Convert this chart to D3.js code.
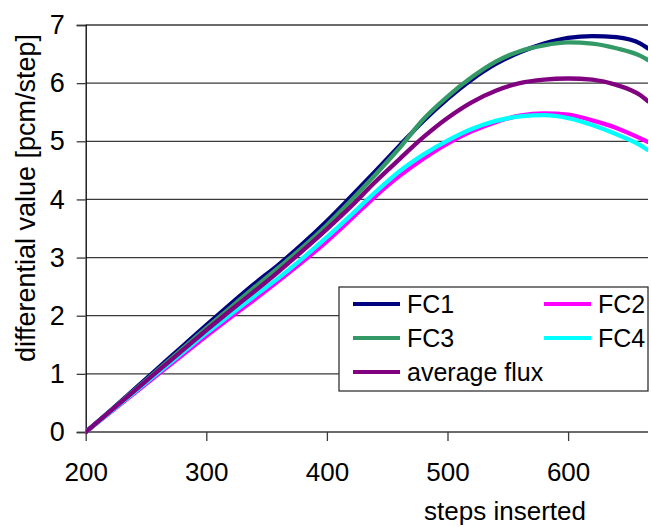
<!DOCTYPE html>
<html>
<head>
<meta charset="utf-8">
<script src="https://cdn.jsdelivr.net/npm/d3@7"></script>
<style>
  html, body { margin: 0; padding: 0; background: #fff; }
  svg { display: block; font-family: "Liberation Sans", Arial, sans-serif; }
</style>
</head>
<body>
<svg id="chart" width="651" height="527"></svg>
<script>
// ---- data ----
const steps = [200,220,240,260,280,300,320,340,360,380,400,420,440,460,480,500,520,540,560,580,600,620,640,660,666];
const fc1 = [0,0.36,0.73,1.10,1.47,1.84,2.20,2.55,2.88,3.24,3.63,4.05,4.48,4.92,5.35,5.73,6.06,6.33,6.53,6.68,6.78,6.81,6.79,6.68,6.60];
const fc2 = [0,0.33,0.66,0.99,1.32,1.65,1.97,2.28,2.60,2.93,3.28,3.66,4.05,4.40,4.70,4.96,5.17,5.33,5.44,5.48,5.46,5.36,5.23,5.05,4.99];
const fc3 = [0,0.35,0.71,1.07,1.43,1.79,2.14,2.49,2.83,3.18,3.56,3.98,4.42,4.88,5.38,5.77,6.10,6.37,6.55,6.65,6.70,6.68,6.60,6.47,6.40];
const fc4 = [0,0.34,0.68,1.02,1.36,1.70,2.02,2.34,2.65,2.99,3.35,3.73,4.12,4.48,4.77,5.01,5.21,5.35,5.43,5.45,5.40,5.28,5.12,4.93,4.85];
const avgFlux = [0,0.35,0.70,1.05,1.40,1.75,2.09,2.42,2.76,3.12,3.49,3.88,4.30,4.69,5.07,5.40,5.67,5.87,6.00,6.06,6.08,6.06,5.97,5.79,5.69];

const seriesNames = ["FC1","FC2","FC3","FC4","average flux"];
const seriesColors = ["#000080","#FF00FF","#339966","#00FFFF","#800080"];
const seriesValues = [fc1, fc2, fc3, fc4, avgFlux];

const xTicks = [200,300,400,500,600];
const yTicks = [0,1,2,3,4,5,6,7];
const xTitle = "steps inserted";
const yTitle = "differential value [pcm/step]";

// ---- layout ----
const svg = d3.select("#chart");
const mLeft = 85.7, mTop = 25, mBottom = 432, mRight = 648;

const x = d3.scaleLinear().domain([200, 700]).range([mLeft, mLeft + 500 * 1.206]);
const y = d3.scaleLinear().domain([0, 7]).range([mBottom, mTop]);

// gridlines
svg.append("g")
  .selectAll("line")
  .data(yTicks.filter(d => d > 0))
  .join("line")
  .attr("x1", mLeft).attr("x2", mRight)
  .attr("y1", d => y(d)).attr("y2", d => y(d))
  .attr("stroke", "#3a3a3a").attr("stroke-width", 1.3);

// y axis
const yAxis = svg.append("g")
  .attr("transform", `translate(${mLeft},0)`)
  .call(d3.axisLeft(y).tickValues(yTicks).tickSize(9).tickPadding(8).tickFormat(d3.format("d")));
yAxis.select(".domain").attr("stroke", "#000").attr("stroke-width", 1.3);
yAxis.selectAll(".tick line").attr("stroke", "#3a3a3a").attr("stroke-width", 1.3);
yAxis.selectAll(".tick text")
  .attr("font-size", 27).attr("fill", "#000")
  .attr("font-family", "'Liberation Sans', Arial, sans-serif")
  .attr("x", -21);

// x axis
const xAxis = svg.append("g")
  .attr("transform", `translate(0,${mBottom})`)
  .call(d3.axisBottom(x).tickValues(xTicks).tickSize(9).tickPadding(22).tickFormat(d3.format("d")));
xAxis.select(".domain").remove();
xAxis.append("line").attr("x1", mLeft).attr("x2", mRight).attr("y1", 0).attr("y2", 0)
  .attr("stroke", "#3a3a3a").attr("stroke-width", 1.3);
xAxis.selectAll(".tick line").attr("stroke", "#3a3a3a").attr("stroke-width", 1.3);
xAxis.selectAll(".tick text")
  .attr("font-size", 26).attr("fill", "#000")
  .attr("font-family", "'Liberation Sans', Arial, sans-serif");

// clip
svg.append("clipPath").attr("id", "plotclip")
  .append("rect").attr("x", mLeft).attr("y", 0).attr("width", mRight - mLeft).attr("height", mBottom + 5);

// lines
const line = d3.line()
  .x((d, i) => x(steps[i]))
  .y(d => y(d))
  .curve(d3.curveMonotoneX);

const lg = svg.append("g").attr("clip-path", "url(#plotclip)");
seriesValues.forEach((vals, k) => {
  lg.append("path")
    .datum(vals)
    .attr("d", line)
    .attr("fill", "none")
    .attr("stroke", seriesColors[k])
    .attr("stroke-width", 4.3)
    .attr("stroke-linejoin", "round")
    .attr("stroke-linecap", "round");
});

// titles
svg.append("text")
  .attr("x", 505).attr("y", 520)
  .attr("text-anchor", "middle")
  .attr("font-size", 26).attr("fill", "#000")
  .text(xTitle);

svg.append("text")
  .attr("transform", "translate(35,198) rotate(-90)")
  .attr("text-anchor", "middle")
  .attr("font-size", 27).attr("fill", "#000")
  .text(yTitle);

// legend
const legend = svg.append("g");
legend.append("rect")
  .attr("x", 339).attr("y", 287).attr("width", 309).attr("height", 104)
  .attr("fill", "#fff").attr("stroke", "#333").attr("stroke-width", 1.3);

const legendPos = [
  {col: 0, row: 0}, {col: 1, row: 0}, {col: 0, row: 1}, {col: 1, row: 1}, {col: 0, row: 2}
];
const colX = [353, 544];
const rowY = [304, 338, 372];
seriesNames.forEach((name, k) => {
  const p = legendPos[k];
  const lx = colX[p.col], ly = rowY[p.row];
  legend.append("line")
    .attr("x1", lx).attr("x2", lx + 47).attr("y1", ly).attr("y2", ly)
    .attr("stroke", seriesColors[k]).attr("stroke-width", 4);
  legend.append("text")
    .attr("x", lx + 54).attr("y", ly).attr("dy", "0.36em")
    .attr("font-size", 25).attr("fill", "#000")
    .text(name);
});
</script>
</body>
</html>
